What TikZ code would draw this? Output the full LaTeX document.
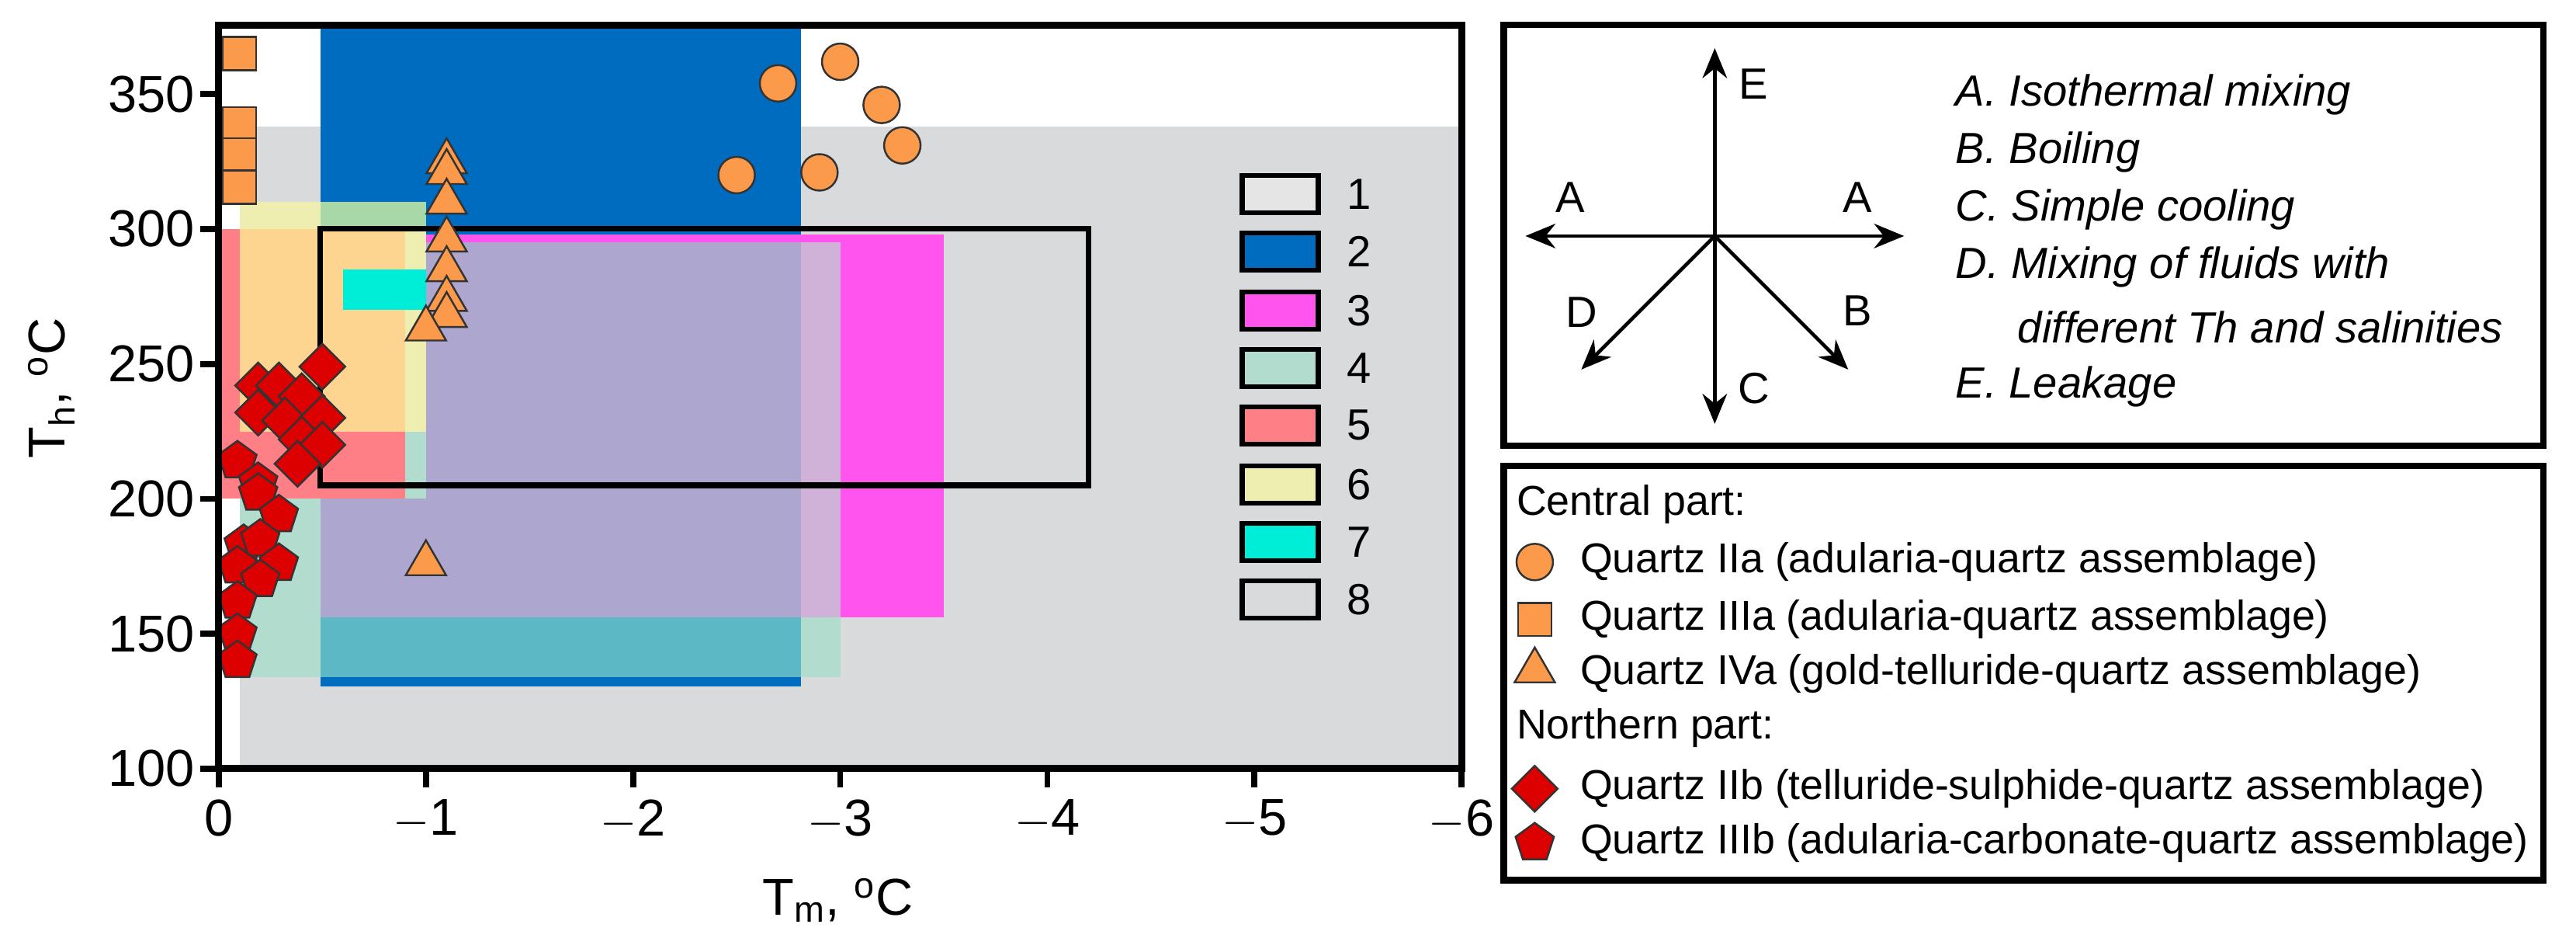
\documentclass[tikz,border=0pt]{standalone}
\usepackage{fontspec}
\setmainfont{Liberation Sans}
\usetikzlibrary{shapes.geometric,arrows.meta}
\definecolor{bgray}{HTML}{D9DADC}
\definecolor{cblue}{HTML}{006CBF}
\definecolor{cmag}{HTML}{FF55EE}
\definecolor{clav}{HTML}{ADA7CF}
\definecolor{cteal}{HTML}{B2DCCE}
\definecolor{cgreen}{HTML}{A8D8A8}
\definecolor{cteal2}{HTML}{5BB8C4}
\definecolor{cred}{HTML}{FF7F86}
\definecolor{cyel}{HTML}{FDD590}
\definecolor{cpyel}{HTML}{EEEEB0}
\definecolor{ccyan}{HTML}{00EED8}
\definecolor{corange}{HTML}{FB9A4A}
\definecolor{cdred}{HTML}{DD0000}
\definecolor{cpk}{HTML}{D0B2D8}
\tikzset{
 mk/.style={draw=black!80, line width=0.7pt, inner sep=0pt, fill=corange},
 circ/.style={mk, circle, minimum size=0.47cm},
 sq/.style={mk, rectangle, minimum size=0.43cm},
 tri/.style={mk, regular polygon, regular polygon sides=3, minimum size=0.6cm},
 dia/.style={mk, diamond, fill=cdred, minimum size=0.6cm},
 pent/.style={mk, regular polygon, regular polygon sides=5, fill=cdred, minimum size=0.52cm},
 lbox/.style={draw=black, line width=1.8pt, minimum width=0.98cm, minimum height=0.48cm, inner sep=0pt},
 frame/.style={draw=black, line width=2.4pt},
 arr/.style={line width=1.3pt, -{Stealth[length=11pt,width=9pt]}},
 big/.style={font=\fontsize{19}{22}\selectfont},
 mid/.style={font=\fontsize{16}{19}\selectfont},
 leg/.style={font=\fontsize{15.3}{18}\selectfont},
}
\begin{document}
\begin{tikzpicture}[x=0.02cm,y=-0.02cm]
\path[fill=white,use as bounding box] (0,0) rectangle (1660,613);
\begin{scope}[shift={(141,668.8)},x=2.67cm,y=0.03476cm]
 \fill[bgray] (0.1,100) rectangle (6,338);
 \fill[cteal] (0.1,134) rectangle (3.0,200);
 \fill[cteal] (0.1,200) rectangle (1.0,310);
 \fill[cblue] (0.49,130.5) rectangle (2.81,375.6);
 \fill[cmag] (0.49,156) rectangle (3.5,298);
 \fill[clav] (0.49,156) rectangle (3.0,295);
 \fill[cpk] (2.81,156) rectangle (3.0,295);
 \fill[cteal2] (0.49,134) rectangle (2.81,156);
 \fill[cred] (0,200) rectangle (0.9,300);
 \fill[cpyel] (0.1,225) rectangle (1.0,310);
 \fill[cyel] (0.1,225) rectangle (0.9,300);
 \fill[cgreen] (0.49,300) rectangle (1.0,310);
 \fill[cteal] (0.9,200) rectangle (1.0,225);
 \fill[ccyan] (0.6,270) rectangle (1.0,285);
 \draw[line width=2pt] (0.49,205) rectangle (4.2,300);
 % markers
 \foreach \x/\y [count=\i] in {2.7/354,3.0/362,3.2/346,3.3/331,2.5/320,2.9/321}
   \node[circ] (c\i) at (\x,\y) {};
 \foreach \y [count=\i] in {365,339,327.5,315.5}
   \node[sq] (s\i) at (0.1,\y) {};
 \foreach \x/\y [count=\i] in {1.1/325,1.1/321,1.1/310,1.1/296,1.1/285,1.1/274,1.1/268,1.0/263,1.0/176}
   \node[tri] (t\i) at (\x,\y) {};
 \foreach \x/\y [count=\i] in {0.5/249,0.19/242,0.29/242,0.4/238,0.19/232,0.32/229,0.5/230,0.4/222,0.5/220,0.38/213}
   \node[dia] (d\i) at (\x,\y) {};
 \foreach \x/\y [count=\i] in {0.09/214,0.19/206,0.19/202,0.29/194,0.12/183,0.2/185,0.29/176,0.09/175,0.2/170,0.09/162,0.09/150,0.09/140}
   \node[pent] (p\i) at (\x,\y) {};
 % axes
 \draw[line width=2.6pt] (0,100) rectangle (6,375.6);
 \foreach \v in {0,...,6}{
   \draw[line width=2.2pt] (\v,100) -- ++(0,-7);
   \node[big, anchor=north] (xt\v) at (\v,92) {\ifnum\v=0 0\else $-$\v\fi};
 }
 \foreach \v in {100,150,...,350}{
   \draw[line width=2.2pt] (0,\v) -- ++(-0.09,0);
   \node[big, anchor=east, inner sep=1pt] (yt\v) at (-0.1,\v) {\v};
 }
\end{scope}
\node[big] (xl) at (540,580) {T\textsubscript{m}, \textsuperscript{o}C};
\node[big, rotate=90] (yl) at (33,250) {T\textsubscript{h}, \textsuperscript{o}C};
% in-plot legend
\foreach \c/\t/\yy [count=\i] in {white!90!black/1/125, cblue/2/162, cmag/3/200, cteal/4/237, cred/5/274, cpyel/6/312, ccyan/7/349, bgray/8/386}{
  \node[lbox, fill=\c] (lb\i) at (825,\yy) {};
  \node[mid] (lt\i) at (876,\yy) {\t};
}
% processes box
\draw[frame] (969,16) rectangle (1639,287);
\coordinate (o) at (1105,152);
\coordinate (eE) at (1105,31);
\coordinate (eAl) at (983,152);
\coordinate (eAr) at (1227,152);
\coordinate (eD) at (1019,238);
\coordinate (eB) at (1191,238);
\coordinate (eC) at (1105,273);
\foreach \e in {eE,eAl,eAr,eD,eB,eC} \draw[arr] (o) -- (\e);
\node[mid] (lE) at (1130,54) {E};
\node[mid] (lAl) at (1012,127) {A};
\node[mid] (lAr) at (1197,127) {A};
\node[mid] (lD) at (1019,201) {D};
\node[mid] (lB) at (1197,200) {B};
\node[mid] (lC) at (1130,250) {C};
\begin{scope}[every node/.style={anchor=west, inner sep=0pt, font=\fontsize{16}{19}\selectfont\itshape}]
\node (r1) at (1260,61) {A. Isothermal mixing};
\node (r2) at (1260,98) {B. Boiling};
\node (r3) at (1260,135) {C. Simple cooling};
\node (r4) at (1260,172) {D. Mixing of fluids with};
\node (r5) at (1300,211) {different Th and salinities};
\node (r6) at (1260,249) {E. Leakage};
\end{scope}
% symbols legend
\draw[frame] (969,300) rectangle (1639,567);
\begin{scope}[every node/.style={leg, anchor=west, inner sep=0pt}]
\node (cp) at (977,325) {Central part:};
\node (q1) at (1018,362) {Quartz IIa (adularia-quartz assemblage)};
\node (q2) at (1018,399) {Quartz IIIa (adularia-quartz assemblage)};
\node (q3) at (1018,434) {Quartz IVa (gold-telluride-quartz assemblage)};
\node (np) at (977,469) {Northern part:};
\node (q4) at (1018,508) {Quartz IIb (telluride-sulphide-quartz assemblage)};
\node (q5) at (1018,543) {Quartz IIIb (adularia-carbonate-quartz assemblage)};
\end{scope}
\node[circ] (m1) at (989,362) {};
\node[sq] (m2) at (989,399) {};
\node[tri] (m3) at (989,432) {};
\node[dia] (m4) at (989,508) {};
\node[pent] (m5) at (989,543) {};
\end{tikzpicture}
\end{document}
